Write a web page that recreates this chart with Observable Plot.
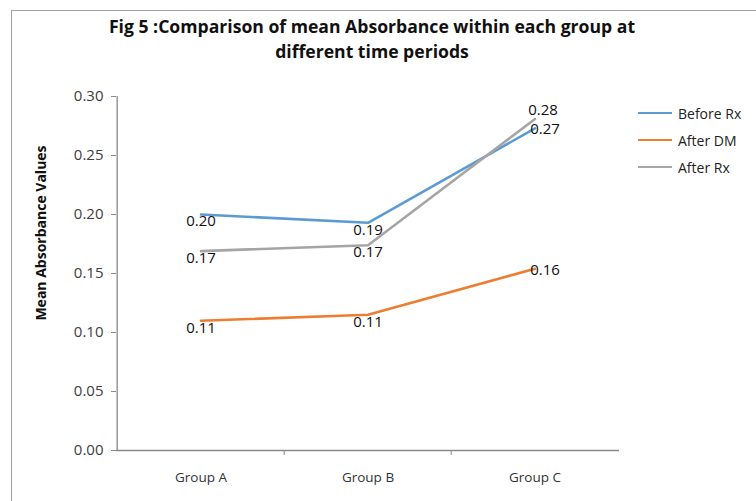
<!DOCTYPE html>
<html><head><meta charset="utf-8">
<script src="https://cdn.jsdelivr.net/npm/d3@7"></script>
<script src="https://cdn.jsdelivr.net/npm/@observablehq/plot@0.6"></script>
<style>
body{margin:0;background:#fff;font-family:"Open Sans",Lato,sans-serif;}
#wrap{position:relative;width:756px;height:501px;overflow:hidden;}
#frame{position:absolute;left:11px;top:10px;width:760px;height:500px;border-top:1.5px solid #a0a0a0;border-left:1.5px solid #a0a0a0;}
#title{position:absolute;left:0;width:744px;top:14px;text-align:center;font-weight:bold;font-size:17.6px;line-height:25px;color:#111;}
#ylab{position:absolute;left:40px;top:233px;transform:translate(-50%,-50%) rotate(-90deg);font-weight:bold;font-size:14px;white-space:nowrap;color:#111;}
#legend{position:absolute;left:638px;top:104px;font-size:14px;color:#222;}
.li{display:flex;align-items:center;height:36px;margin-top:-9px;}
.li span.sw{display:inline-block;width:34px;height:2.5px;margin-right:6px;}
#chart{position:absolute;left:0;top:0;}
</style></head>
<body><div id="wrap"><div id="frame"></div><div id="chart"></div>
<div id="title">Fig 5 :Comparison of mean Absorbance within each group at<br>different time periods</div>
<div id="ylab">Mean Absorbance Values</div>
<div id="legend"></div></div>
<script>
const groups = ["Group A", "Group B", "Group C"];
const seriesNames = ["Before Rx", "After DM", "After Rx"];
const beforeRx = [0.200, 0.193, 0.273];
const afterDM = [0.110, 0.115, 0.154];
const afterRx = [0.169, 0.174, 0.281];
const labelsBefore = ["0.20", "0.19", "0.27"];
const labelsDM = ["0.11", "0.11", "0.16"];
const labelsAfter = ["0.17", "0.17", "0.28"];
const yTicks = [0, 0.05, 0.10, 0.15, 0.20, 0.25, 0.30];
const colors = ["#5B9BD5", "#ED7D31", "#A5A5A5"];

const seriesVals = [beforeRx, afterDM, afterRx];
const seriesLabels = [labelsBefore, labelsDM, labelsAfter];
const data = [];
seriesNames.forEach((s, si) => groups.forEach((g, gi) => data.push({series: s, group: g, value: seriesVals[si][gi], label: seriesLabels[si][gi], gi})));

const W = 756, H = 501, mL = 116, mR = 137, mT = 96, mB = 51;
const bw = (W - mL - mR) / groups.length;
const font = "'Open Sans', Lato, sans-serif";

const plot = Plot.plot({
  width: W, height: H, marginLeft: mL, marginRight: mR, marginTop: mT, marginBottom: mB,
  style: {fontFamily: font, background: "transparent"},
  x: {type: "band", domain: groups, padding: 0, label: null},
  y: {domain: [0, 0.30], label: null},
  color: {domain: seriesNames, range: colors},
  marks: [
    Plot.axisY({ticks: yTicks, tickFormat: d3.format(".2f"), tickSize: 5, tickPadding: 8, stroke: "#8a8a8a", fill: "#404040", fontSize: 15, label: null}),
    Plot.axisX({tickSize: 0, tickPadding: 22, fill: "#333", fontSize: 13.5, label: null}),
    Plot.ruleY([0], {stroke: "#8a8a8a", strokeWidth: 1.3}),
    Plot.ruleX([groups[0]], {y1: 0, y2: 0.30, dx: -bw / 2, stroke: "#8a8a8a", strokeWidth: 1.3}),
    Plot.ruleX(groups.slice(1), {y1: 0, y2: 0, insetBottom: -5, dx: -bw / 2, stroke: "#8a8a8a"}),
    Plot.line(data, {x: "group", y: "value", z: "series", stroke: "series", strokeWidth: 2.6}),
    Plot.text(data.filter(d => d.gi < 2), {x: "group", y: "value", text: "label", dy: 7, fill: "#111", fontSize: 15}),
    Plot.text(data.filter(d => d.gi === 2 && d.series !== "After Rx"), {x: "group", y: "value", text: "label", dy: 1, dx: 10, fill: "#111", fontSize: 15}),
    Plot.text(data.filter(d => d.gi === 2 && d.series === "After Rx"), {x: "group", y: "value", text: "label", dy: -9, dx: 8, fill: "#111", fontSize: 15})
  ]
});
document.getElementById("chart").appendChild(plot);

const leg = document.getElementById("legend");
seriesNames.forEach((s, i) => {
  const d = document.createElement("div"); d.className = "li";
  d.innerHTML = `<span class="sw" style="background:${colors[i]}"></span>${s}`;
  leg.appendChild(d);
});
</script></body></html>
